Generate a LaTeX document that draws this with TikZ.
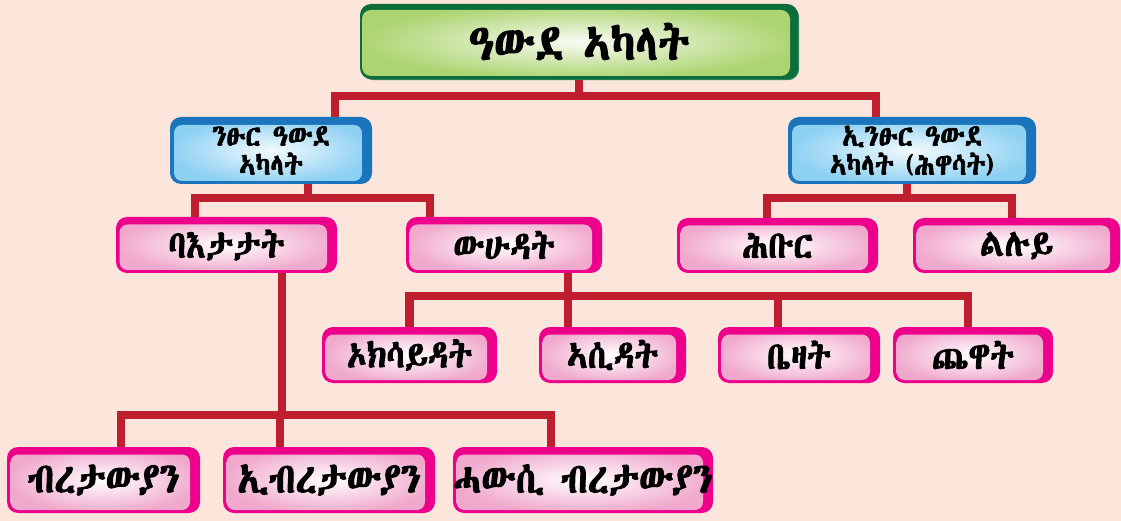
\documentclass[tikz,border=0pt]{standalone}
\usepackage{fontspec}
\usetikzlibrary{backgrounds}
\newfontfamily\eth[FakeBold=2.3,FakeStretch=0.87]{Abyssinica SIL}
\definecolor{bg}{RGB}{252,230,220}
\definecolor{conncol}{RGB}{190,30,45}
\definecolor{mag}{RGB}{236,0,140}
\definecolor{pinkout}{RGB}{240,168,204}
\definecolor{blueb}{RGB}{27,117,188}
\definecolor{blueout}{RGB}{140,208,242}
\definecolor{greenb}{RGB}{12,108,58}
\definecolor{greenout}{RGB}{172,212,112}
\tikzset{
  conn/.style={draw=conncol, line width=8.5pt},
  boxbase/.style={rounded corners=11pt, inner sep=0pt},
  pinkbox/.style={boxbase, fill=mag, font=\eth\fontsize{38}{40}\selectfont,
    path picture={\shade[inner color=white, outer color=pinkout, rounded corners=8pt]
      ([shift={(3.5pt,-7.5pt)}]path picture bounding box.north west) rectangle
      ([shift={(-10pt,3pt)}]path picture bounding box.south east);}},
  bigpink/.style={pinkbox, font=\eth\fontsize{42}{44}\selectfont},
  bluebox/.style={boxbase, fill=blueb, align=center, font=\eth\fontsize{30}{29}\selectfont,
    path picture={\shade[inner color=white!90!blueout, outer color=blueout, rounded corners=8pt]
      ([shift={(4pt,-8pt)}]path picture bounding box.north west) rectangle
      ([shift={(-10pt,3pt)}]path picture bounding box.south east);}},
  greenbox/.style={boxbase, fill=greenb, font=\eth\fontsize{50}{55}\selectfont,
    path picture={\shade[inner color=white!92!greenout, outer color=greenout, rounded corners=9pt]
      ([shift={(2pt,-6pt)}]path picture bounding box.north west) rectangle
      ([shift={(-8pt,3pt)}]path picture bounding box.south east);}},
}
\begin{document}
\begin{tikzpicture}[x=1pt,y=-1pt]
\useasboundingbox (0,0) rectangle (1121,521);
% title stack
\foreach \d in {3,1.5} {
  \draw[greenb!80!white, fill=greenb, rounded corners=11pt, line width=0.6pt] (360+\d,4+\d) rectangle (798+\d*0.3,79+\d*0.3);
}
\node[greenbox, minimum width=438pt, minimum height=75pt] (title) at (579,41.5) {ዓውደ ኣካላት};
\node[bluebox, minimum width=202pt, minimum height=67pt] (bl) at (271,150.5) {ንፁር ዓውደ\\ኣካላት};
\node[bluebox, minimum width=248pt, minimum height=67pt] (br) at (912,150.5) {ኢንፁር ዓውደ\\ኣካላት (ሕዋሳት)};
\node[pinkbox, minimum width=221pt, minimum height=56pt] (ba) at (226.5,245) {ባእታታት};
\node[pinkbox, minimum width=196pt, minimum height=56pt] (wu) at (504,245) {ውሁዳት};
\node[pinkbox, minimum width=201pt, minimum height=55pt] (hb) at (777.5,245.5) {ሕቡር};
\node[pinkbox, minimum width=207pt, minimum height=55pt] (ll) at (1016.5,245.5) {ልሉይ};
\node[pinkbox, minimum width=175pt, minimum height=56pt] (ok) at (409.5,355) {ኦክሳይዳት};
\node[pinkbox, minimum width=147pt, minimum height=56pt] (as) at (612.5,355) {ኣሲዳት};
\node[pinkbox, minimum width=162pt, minimum height=56pt] (bz) at (799,355) {ቤዛት};
\node[pinkbox, minimum width=160pt, minimum height=56pt] (cw) at (973,355) {ጨዋት};
\node[bigpink, minimum width=193pt, minimum height=66pt] (b1) at (103.5,480) {ብረታውያን};
\node[bigpink, minimum width=212pt, minimum height=66pt] (b2) at (329,480) {ኢብረታውያን};
\node[bigpink, minimum width=260pt, minimum height=66pt] (b3) at (583,480) {ሓውሲ ብረታውያን};
\begin{scope}[on background layer]
\fill[bg] (0,0) rectangle (1121,521);
\draw[conn] (title.south) -- ++(0,17);
\draw[conn] ([xshift=64pt]bl.north) -- ++(0,-21) -| ([xshift=-36pt]br.north);
\draw[conn] ([xshift=37pt]bl.south) -- ++(0,14);
\draw[conn] ([xshift=-31.5pt]ba.north) -- ++(0,-19) -| ([xshift=-74pt]wu.north);
\draw[conn] ([xshift=-5pt]br.south) -- ++(0,14);
\draw[conn] ([xshift=-10.5pt]hb.north) -- ++(0,-20) -| ([xshift=-4.5pt]ll.north);
\draw[conn] ([xshift=64pt]wu.south) -- ++(0,23);
\draw[conn] (ok.north) -- ++(0,-31) -| ([xshift=-5pt]cw.north);
\draw[conn] ([xshift=-44.5pt]as.north) -- ++(0,-31);
\draw[conn] ([xshift=-21pt]bz.north) -- ++(0,-31);
\draw[conn] ([xshift=55.5pt]ba.south) -- ++(0,142);
\draw[conn] ([xshift=17.5pt]b1.north) -- ++(0,-32) -| ([xshift=-32pt]b3.north);
\draw[conn] ([xshift=-49pt]b2.north) -- ++(0,-32);
\end{scope}
\end{tikzpicture}
\end{document}
